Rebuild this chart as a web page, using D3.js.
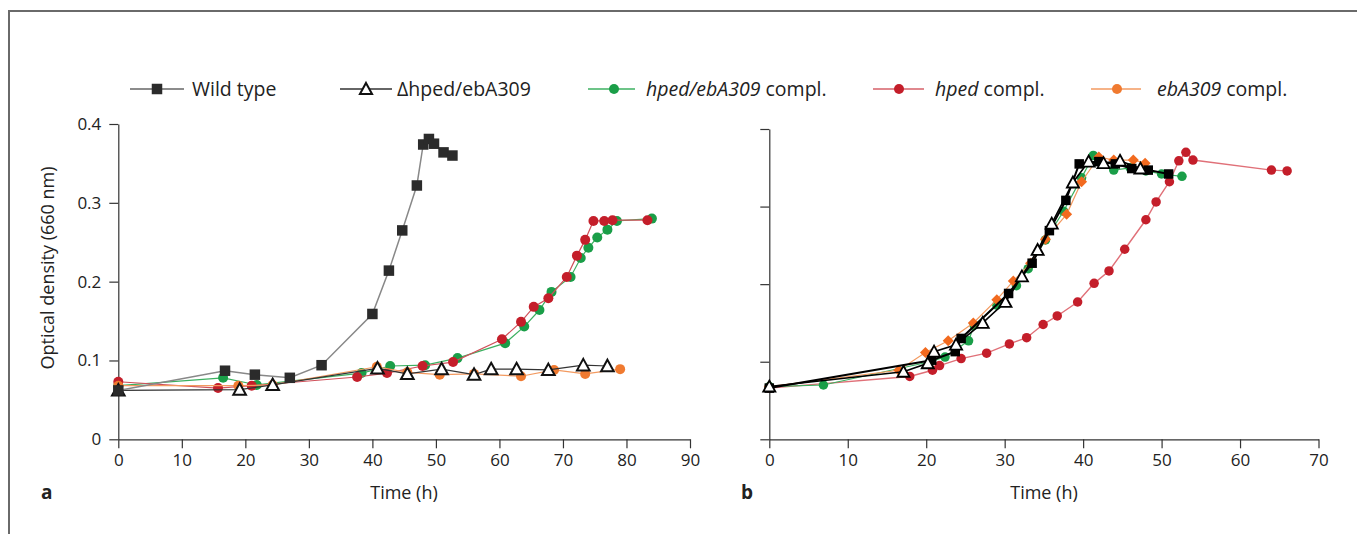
<!DOCTYPE html>
<html>
<head>
<meta charset="utf-8">
<script src="https://cdn.jsdelivr.net/npm/d3@7"></script>
<style>
  body { margin: 0; background: #fff; }
  svg { font-family: "Open Sans", "Noto Sans", sans-serif; }
  .axis path, .axis line { stroke: #333; stroke-width: 1.2; }
  .axis text { font-size: 17px; fill: #222; font-family: "Open Sans", sans-serif; }
</style>
</head>
<body>
<script>
// Panel a: time (h) and optical density
var a_wildTime = [0, 16.8, 21.5, 27, 32, 40, 42.6, 44.7, 47, 48, 48.9, 49.7, 51.2, 52.6];
var a_wildOD   = [0.062, 0.087, 0.082, 0.078, 0.094, 0.159, 0.214, 0.265, 0.322, 0.374, 0.381, 0.375, 0.364, 0.36];

var a_deltaTime = [0, 19.1, 24.3, 40.8, 45.5, 50.9, 56, 58.7, 62.7, 67.7, 73.2, 77];
var a_deltaOD   = [0.062, 0.063, 0.069, 0.090, 0.083, 0.089, 0.082, 0.089, 0.089, 0.088, 0.094, 0.093];

var a_greenTime = [0, 16.5, 21.8, 38.3, 42.8, 48.3, 53.4, 60.9, 63.9, 66.3, 68.2, 71.2, 72.8, 74, 75.4, 77, 78.5, 84];
var a_greenOD   = [0.068, 0.078, 0.069, 0.084, 0.093, 0.094, 0.103, 0.122, 0.143, 0.164, 0.187, 0.206, 0.230, 0.243, 0.256, 0.266, 0.277, 0.280];

var a_redTime = [0, 15.7, 21, 37.6, 42.3, 47.9, 52.7, 60.4, 63.4, 65.4, 67.7, 70.6, 72.2, 73.5, 74.8, 76.5, 77.8, 83.3];
var a_redOD   = [0.073, 0.065, 0.068, 0.079, 0.084, 0.093, 0.098, 0.127, 0.149, 0.168, 0.179, 0.206, 0.233, 0.253, 0.277, 0.277, 0.278, 0.278];

var a_orangeTime = [0, 18.9, 24.3, 40.7, 45.5, 50.6, 56, 63.4, 68.6, 73.5, 79];
var a_orangeOD   = [0.068, 0.068, 0.069, 0.092, 0.085, 0.082, 0.083, 0.080, 0.088, 0.083, 0.089];

// Panel b
var b_wildTime = [0, 20.7, 23.7, 24.45, 30.5, 33.5, 35.7, 37.8, 39.5, 42, 44.1, 46.2, 48.3, 50.9];
var b_wildOD   = [0.066, 0.102, 0.113, 0.130, 0.188, 0.227, 0.269, 0.308, 0.355, 0.358, 0.355, 0.349, 0.347, 0.342];

var b_deltaTime = [0, 17.1, 20.2, 21, 23.8, 27.2, 30.1, 32.2, 34.2, 36, 38.7, 40.7, 42.6, 44.7, 47.3];
var b_deltaOD   = [0.068, 0.087, 0.098, 0.113, 0.122, 0.150, 0.177, 0.210, 0.244, 0.278, 0.331, 0.358, 0.356, 0.359, 0.349];

var b_greenTime = [0, 6.9, 20.5, 22.4, 25.4, 26.1, 29, 31.5, 33, 35.2, 37.5, 39.8, 41.3, 43.9, 46, 48, 50, 52.6];
var b_greenOD   = [0.068, 0.070, 0.100, 0.106, 0.127, 0.147, 0.173, 0.198, 0.220, 0.257, 0.294, 0.337, 0.366, 0.347, 0.350, 0.346, 0.342, 0.339];

var b_redTime = [0, 17.9, 20.8, 21.7, 24.45, 27.7, 30.6, 32.8, 34.9, 36.7, 39.3, 41.4, 43.3, 45.3, 48, 49.3, 51, 52.2, 53.1, 54, 64, 66];
var b_redOD   = [0.066, 0.081, 0.089, 0.095, 0.104, 0.111, 0.123, 0.131, 0.148, 0.159, 0.177, 0.201, 0.217, 0.245, 0.283, 0.306, 0.332, 0.359, 0.370, 0.360, 0.347, 0.346];

var b_orangeTime = [0, 16.5, 19.9, 22.8, 26, 29, 31.1, 33.3, 35.2, 37.9, 39.8, 42, 43.9, 46.4, 47.9];
var b_orangeOD   = [0.068, 0.089, 0.112, 0.127, 0.150, 0.180, 0.204, 0.227, 0.258, 0.290, 0.332, 0.364, 0.360, 0.360, 0.356];

var aTicksX = [0, 10, 20, 30, 40, 50, 60, 70, 80, 90];
var bTicksX = [0, 10, 20, 30, 40, 50, 60, 70];
var ticksY = [0, 0.1, 0.2, 0.3, 0.4];

function zip(t, v) { return t.map(function(d, i) { return {t: d, v: v[i]}; }); }

var svg = d3.select("body").append("svg")
    .attr("width", 1357)
    .attr("height", 534);

// outer frame
svg.append("path")
    .attr("d", "M9,534 V11 H1357")
    .attr("fill", "none")
    .attr("stroke", "#6a6a6a")
    .attr("stroke-width", 2);

// marker drawers
function drawMarker(g, shape, x, y, st) {
  if (shape === "square") {
    g.append("rect").attr("x", x - st.size / 2).attr("y", y - st.size / 2)
      .attr("width", st.size).attr("height", st.size)
      .attr("fill", st.fill).attr("stroke", st.stroke || "none").attr("stroke-width", 0.8);
  } else if (shape === "triangle") {
    var s = st.size;
    g.append("path")
      .attr("d", "M" + x + "," + (y - s * 0.55) + " L" + (x + s * 0.55) + "," + (y + s * 0.45) + " L" + (x - s * 0.55) + "," + (y + s * 0.45) + " Z")
      .attr("fill", "#fff").attr("stroke", st.stroke).attr("stroke-width", st.sw || 2)
      .attr("stroke-linejoin", "miter");
  } else if (shape === "diamond") {
    var r = st.size / 2;
    g.append("path")
      .attr("d", "M" + x + "," + (y - r) + " L" + (x + r) + "," + y + " L" + x + "," + (y + r) + " L" + (x - r) + "," + y + " Z")
      .attr("fill", st.fill);
  } else {
    g.append("circle").attr("cx", x).attr("cy", y).attr("r", st.size / 2)
      .attr("fill", st.fill).attr("fill-opacity", st.op || 1);
  }
}

function drawSeries(g, x, y, data, st) {
  var line = d3.line().x(function(d) { return x(d.t); }).y(function(d) { return y(d.v); });
  g.append("path").datum(data)
    .attr("d", line)
    .attr("fill", "none")
    .attr("stroke", st.line)
    .attr("stroke-width", st.lw);
  data.forEach(function(d) { drawMarker(g, st.shape, x(d.t), y(d.v), st); });
}

// ---------- Panel a ----------
var xa = d3.scaleLinear().domain([0, 90]).range([118.3, 690]);
var ya = d3.scaleLinear().domain([0, 0.4]).range([439.3, 124]);

svg.append("g").attr("class", "axis")
    .attr("transform", "translate(0,439.3)")
    .call(d3.axisBottom(xa).tickValues(aTicksX).tickSize(9).tickPadding(6).tickSizeOuter(0));
svg.append("g").attr("class", "axis")
    .attr("transform", "translate(118.3,0)")
    .call(d3.axisLeft(ya).tickValues(ticksY).tickSize(9).tickPadding(8).tickSizeOuter(0)
      .tickFormat(function(d) { return d === 0 ? "0" : d3.format(".1f")(d); }));

var ga = svg.append("g");
drawSeries(ga, xa, ya, zip(a_greenTime, a_greenOD), {shape: "circle", size: 10, fill: "#1a9e48", line: "#3cb060", lw: 1.2});
drawSeries(ga, xa, ya, zip(a_redTime, a_redOD), {shape: "circle", size: 10, fill: "#c41e2a", line: "#d0505a", lw: 1.2});
drawSeries(ga, xa, ya, zip(a_orangeTime, a_orangeOD), {shape: "circle", size: 10, fill: "#f07a30", line: "#f39a60", lw: 1.2});
drawSeries(ga, xa, ya, zip(a_deltaTime, a_deltaOD), {shape: "triangle", size: 11.5, stroke: "#111", sw: 2, line: "#333", lw: 1.2});
drawSeries(ga, xa, ya, zip(a_wildTime, a_wildOD), {shape: "square", size: 10.5, fill: "#2b2b2b", line: "#888", lw: 1.5});

svg.append("text").attr("x", 404).attr("y", 499).attr("text-anchor", "middle")
    .style("font-size", "18px").attr("fill", "#222").text("Time (h)");
svg.append("text").attr("x", 41).attr("y", 499)
    .style("font-size", "19px").style("font-weight", "bold").attr("fill", "#222").text("a");
svg.append("text").attr("transform", "translate(54,268) rotate(-90)")
    .attr("text-anchor", "middle")
    .style("font-size", "18px").attr("fill", "#222").text("Optical density (660 nm)");

// ---------- Panel b ----------
var xb = d3.scaleLinear().domain([0, 70]).range([769.3, 1318.5]);
var yb = d3.scaleLinear().domain([0, 0.4]).range([439.3, 129]);

svg.append("g").attr("class", "axis")
    .attr("transform", "translate(0,439.3)")
    .call(d3.axisBottom(xb).tickValues(bTicksX).tickSize(9).tickPadding(6).tickSizeOuter(0));
svg.append("g").attr("class", "axis")
    .attr("transform", "translate(769.3,0)")
    .call(d3.axisLeft(yb).tickValues(ticksY).tickSize(9).tickSizeOuter(0).tickFormat(""));

var gb = svg.append("g");
drawSeries(gb, xb, yb, zip(b_redTime, b_redOD), {shape: "circle", size: 9.5, fill: "#c41e2a", line: "#e07078", lw: 1.4});
drawSeries(gb, xb, yb, zip(b_greenTime, b_greenOD), {shape: "circle", size: 9.5, fill: "#1a9e48", line: "#3cb060", lw: 1.2});
drawSeries(gb, xb, yb, zip(b_orangeTime, b_orangeOD), {shape: "diamond", size: 11, fill: "#f26a1f", line: "#f39a60", lw: 1.2});
drawSeries(gb, xb, yb, zip(b_wildTime, b_wildOD), {shape: "square", size: 9.5, fill: "#000", line: "#000", lw: 2});
drawSeries(gb, xb, yb, zip(b_deltaTime, b_deltaOD), {shape: "triangle", size: 11, stroke: "#000", sw: 1.8, line: "#000", lw: 1.6});

svg.append("text").attr("x", 1044).attr("y", 499).attr("text-anchor", "middle")
    .style("font-size", "18px").attr("fill", "#222").text("Time (h)");
svg.append("text").attr("x", 741).attr("y", 499)
    .style("font-size", "19px").style("font-weight", "bold").attr("fill", "#222").text("b");

// ---------- Legend ----------
var legendItems = [
  {x1: 130, x2: 184, mx: 157, tx: 192, shape: "square", st: {size: 10.5, fill: "#2b2b2b"}, line: "#666", parts: [["Wild type", false]]},
  {x1: 340, x2: 392, mx: 366, tx: 397, shape: "triangle", st: {size: 11, stroke: "#111", sw: 2}, line: "#333", parts: [["\u0394hped/ebA309", false]]},
  {x1: 588, x2: 635, mx: 614, tx: 646, shape: "circle", st: {size: 10, fill: "#1a9e48"}, line: "#3cb060", parts: [["hped/ebA309", true], [" compl.", false]]},
  {x1: 873, x2: 924, mx: 899, tx: 935, shape: "circle", st: {size: 10, fill: "#c41e2a"}, line: "#d66068", parts: [["hped", true], [" compl.", false]]},
  {x1: 1091, x2: 1141, mx: 1117, tx: 1157, shape: "circle", st: {size: 10, fill: "#f07a30"}, line: "#f39a60", parts: [["ebA309", true], [" compl.", false]]}
];
var lg = svg.append("g");
legendItems.forEach(function(it) {
  var ly = 89;
  lg.append("line").attr("x1", it.x1).attr("x2", it.x2).attr("y1", ly).attr("y2", ly)
    .attr("stroke", it.line).attr("stroke-width", 1.6);
  drawMarker(lg, it.shape, it.mx, ly, it.st);
  var t = lg.append("text").attr("x", it.tx).attr("y", ly + 7)
    .style("font-size", "19.5px").attr("fill", "#222");
  it.parts.forEach(function(p) {
    t.append("tspan").style("font-style", p[1] ? "italic" : "normal").text(p[0]);
  });
});
</script>
</body>
</html>
